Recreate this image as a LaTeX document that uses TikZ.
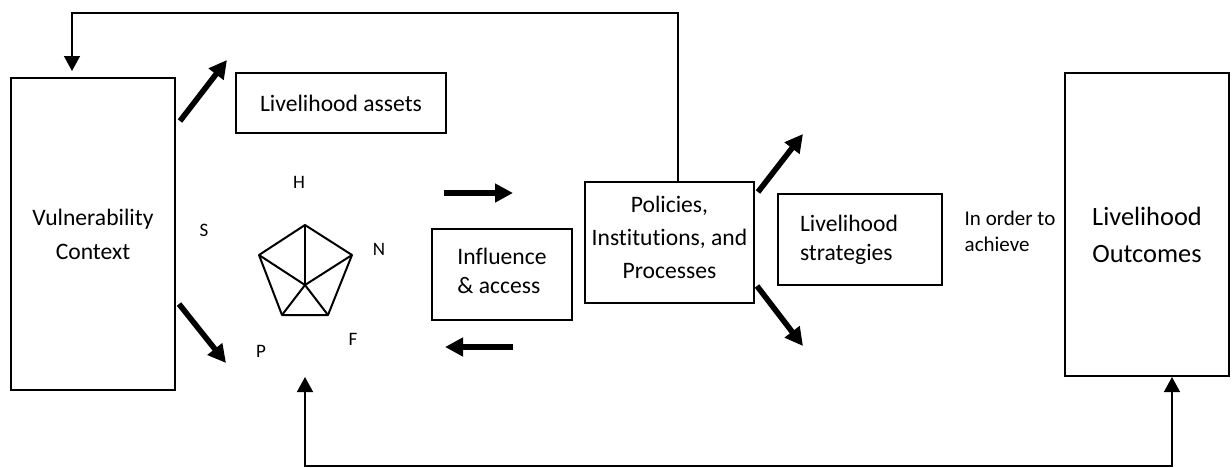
\documentclass[tikz,border=0pt]{standalone}
\usepackage{fontspec}
\setmainfont{Carlito}[Ligatures=NoCommon]
\usepackage{tikz}
\usetikzlibrary{arrows.meta,positioning}

\begin{document}
\begin{tikzpicture}[
    x=0.5pt, y=-0.5pt,
    box/.style={draw,line width=1pt,inner sep=0pt,align=center,
                font=\fontsize{11.8}{17}\selectfont},
    conn/.style={line width=0.75pt,>={Triangle[length=7.5pt,width=8pt]},->},
    fat/.style={line width=2.8pt,-{Triangle[length=9pt,width=9pt]}},
    tag/.style={font=\fontsize{9.5}{11}\selectfont,inner sep=0pt}]

  \useasboundingbox (0,0) rectangle (1232,467);

  % Context and assets
  \node[box,minimum width=82pt,minimum height=156pt] (vuln) at (93,234)
    {Vulnerability\\Context};
  \node[box,minimum width=105pt,minimum height=30pt] (assets) at (341,103)
    {Livelihood assets};

  % Asset pentagon
  \coordinate (hub) at (305,285);
  \coordinate (ph) at (305,225);
  \coordinate (pn) at (352,255);
  \coordinate (pf) at (328,315);
  \coordinate (pp) at (282,315);
  \coordinate (ps) at (259,255);
  \draw[line width=1pt,line join=round] (ph) -- (pn) -- (pf) -- (pp) -- (ps) -- cycle;
  \foreach \v in {ph,pn,pf,pp,ps}
    \draw[line width=1pt] (hub) -- (\v);
  \node[tag] (lh) at (299,182) {H};
  \node[tag] (ls) at (204,230) {S};
  \node[tag] (ln) at (379,249) {N};
  \node[tag] (lf) at (353,339) {F};
  \node[tag] (lp) at (261,351) {P};

  % Structures and processes
  \node[box,minimum width=70pt,minimum height=45.5pt] (influence) at (502,274.5) {};
  \node[align=left,inner sep=0pt,font=\fontsize{11.8}{14.5}\selectfont]
    (inftext) at (502,270.5) {Influence\\\& access};
  \node[box,minimum width=84.5pt,minimum height=60.5pt] (pip) at (669.5,242.5) {};
  \node[align=center,inner sep=0pt,font=\fontsize{11.8}{16.5}\selectfont]
    (piptext) at (669.5,237) {Policies,\\Institutions, and\\Processes};

  % Strategies and outcomes
  \node[box,align=left,text width=60pt,minimum width=82pt,minimum height=45.5pt,
        font=\fontsize{11.8}{14.5}\selectfont] (strat) at (860,239.5)
    {Livelihood\\strategies};
  \node[font=\fontsize{10.5}{13}\selectfont,align=left,inner sep=0pt] (achieve) at (1010,231)
    {In order to\\achieve};
  \node[box,minimum width=82pt,minimum height=151.5pt] (outcomes) at (1147,224.5) {};
  \node[align=center,inner sep=0pt,font=\fontsize{13.2}{18.5}\selectfont]
    (outtext) at (1147,234.5) {Livelihood\\Outcomes};

  % Thick arrows
  \draw[fat] ([shift={(4,44)}]vuln.north east) -- ++(47,-61);
  \draw[fat] ([shift={(3,-87)}]vuln.south east) -- ++(47,59);
  \draw[fat] ([shift={(13,-35)}]influence.north west) -- ++(69,0);
  \draw[fat] ([shift={(82,26)}]influence.south west) -- ++(-68,0);
  \draw[fat] ([shift={(3,11)}]pip.north east) -- ++(45,-58);
  \draw[fat] ([shift={(2,-18)}]pip.south east) -- ++(46,60);

  % Feedback loops
  \coordinate (fbr) at (678,13);
  \coordinate (fbl) at (72,13);
  \draw[conn,shorten >=3pt] (pip.north -| fbr) -- (fbr) -- (fbl) -- (fbl |- vuln.north);
  \coordinate (capin) at (305,377);
  \coordinate (fbb) at (305,466);
  \draw[conn,<->] (capin) -- (fbb) -| ([xshift=12.5pt]outcomes.south);
\end{tikzpicture}
\end{document}
